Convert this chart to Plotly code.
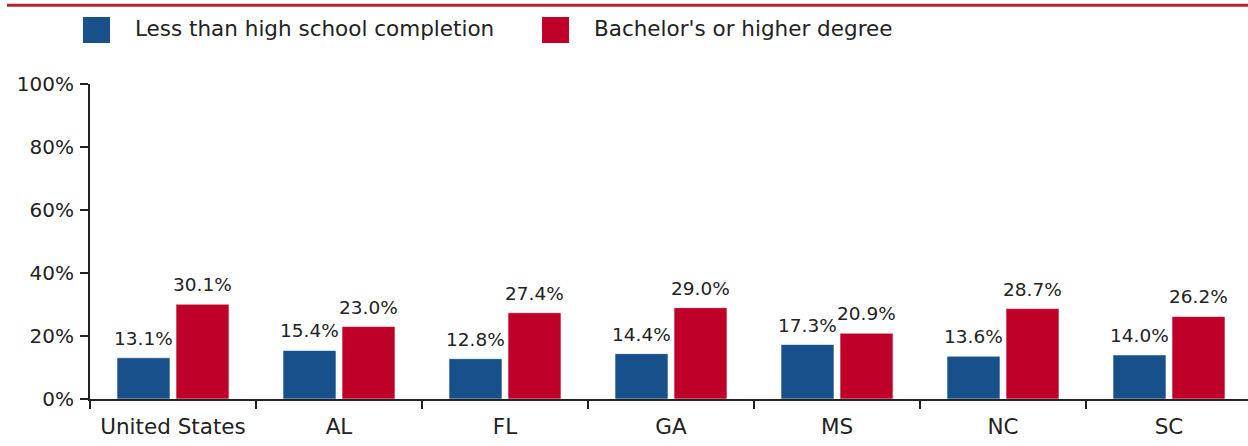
import plotly.graph_objects as go

categories = ["United States", "AL", "FL", "GA", "MS", "NC", "SC"]
less_than_hs = [13.1, 15.4, 12.8, 14.4, 17.3, 13.6, 14.0]
bachelors = [30.1, 23.0, 27.4, 29.0, 20.9, 28.7, 26.2]
series_names = ["Less than high school completion", "Bachelor's or higher degree"]
y_ticks = [0, 20, 40, 60, 80, 100]
y_tick_labels = ["0%", "20%", "40%", "60%", "80%", "100%"]

BLUE = "#18508C"
RED = "#BF0029"
TXT = "#222222"
FONT = "DejaVu Sans"

W, H = 1248, 446
ML, MR, MT, MB = 90, 0, 84, 47
plot_w = W - ML - MR
cat_px = 166.0
n_cats = plot_w / cat_px

fig = go.Figure()
for name, vals, col in [(series_names[0], less_than_hs, BLUE), (series_names[1], bachelors, RED)]:
    fig.add_trace(go.Bar(
        x=categories, y=vals, name=name, showlegend=False,
        marker=dict(color=col, line=dict(color="rgba(255,255,255,0.6)", width=1)),
    ))

# value labels
half = 29.5
for vals, sh in [(less_than_hs, -half), (bachelors, half)]:
    for c, v in zip(categories, vals):
        fig.add_annotation(x=c, y=v, text=f"{v:.1f}%", showarrow=False,
                           xshift=sh, yshift=7, yanchor="bottom",
                           font=dict(family=FONT, size=18.5, color=TXT))

def px_x(p):
    return (p - ML) / plot_w
def px_y(p):
    return (H - MB - p) / (H - MT - MB)

# legend drawn in layout
for (x0, x1, tx), col, name in [((83, 110, 133), BLUE, series_names[0]), ((542, 569, 592), RED, series_names[1])]:
    fig.add_shape(type="rect", xref="paper", yref="paper",
                  x0=px_x(x0), x1=px_x(x1), y0=px_y(43), y1=px_y(17),
                  fillcolor=col, line=dict(width=0))
    fig.add_annotation(xref="paper", yref="paper", x=px_x(tx), y=px_y(29),
                       xanchor="left", yanchor="middle", showarrow=False,
                       text=name, font=dict(family=FONT, size=21.5, color=TXT))

# top red rule
fig.add_shape(type="line", xref="paper", yref="paper",
              x0=px_x(7), x1=px_x(1248), y0=px_y(5.3), y1=px_y(5.3),
              line=dict(color="#B5252F", width=3))

fig.update_layout(
    width=W, height=H,
    margin=dict(l=ML, r=MR, t=MT, b=MB, pad=0),
    paper_bgcolor="white", plot_bgcolor="white",
    barmode="group", bargap=0.289, bargroupgap=0.1017,
    font=dict(family=FONT, color=TXT),
    xaxis=dict(
        range=[-0.5, n_cats - 0.5], showgrid=False,
        showline=True, linecolor=TXT, linewidth=2,
        ticks="outside", tickson="boundaries", ticklen=8, tickwidth=1.5, tickcolor=TXT,
        tickfont=dict(family=FONT, size=21.5, color=TXT), ticklabelstandoff=7,
    ),
    yaxis=dict(
        range=[0, 100], tickvals=y_ticks, ticktext=y_tick_labels,
        showgrid=False, zeroline=False,
        showline=True, linecolor=TXT, linewidth=2,
        ticks="outside", ticklen=8, tickwidth=1.5, tickcolor=TXT,
        tickfont=dict(family=FONT, size=20, color=TXT), ticklabelstandoff=2,
    ),
)

fig.write_html("out.html", config={"displayModeBar": False},
               post_script="document.body.style.margin='0';document.body.style.overflow='hidden';")
